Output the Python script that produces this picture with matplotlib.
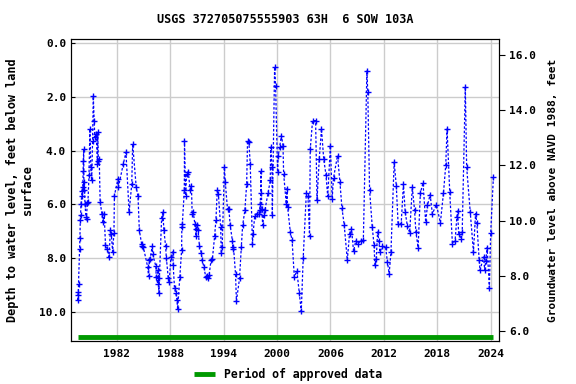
import matplotlib
matplotlib.use('Agg')
from matplotlib import pyplot as plt

# date (decimal year) and depth to water (feet below land surface)
years = [
    1977.62, 1977.66, 1977.70, 1977.72, 1977.85, 1977.88, 1977.92, 1977.95, 1978.00, 1978.08,
    1978.12, 1978.20, 1978.24, 1978.26, 1978.30, 1978.33, 1978.36, 1978.45, 1978.55, 1978.62,
    1978.70, 1978.78, 1978.90, 1979.00, 1979.10, 1979.20, 1979.30, 1979.38, 1979.48, 1979.55,
    1979.70, 1979.85, 1979.88, 1979.95, 1980.05, 1980.15, 1980.35, 1980.45, 1980.60, 1980.75,
    1980.95, 1981.15, 1981.30, 1981.40, 1981.55, 1981.70, 1981.75, 1982.15, 1982.20, 1982.75,
    1983.05, 1983.40, 1983.70, 1983.80, 1984.20, 1984.40, 1984.55, 1984.80, 1984.85, 1985.00,
    1985.50, 1985.58, 1985.68, 1985.75, 1986.00, 1986.05, 1986.40, 1986.45, 1986.60, 1986.65,
    1986.75, 1986.80, 1987.05, 1987.20, 1987.30, 1987.50, 1987.58, 1987.80, 1987.90, 1988.10,
    1988.30, 1988.35, 1988.50, 1988.65, 1988.78, 1988.85, 1989.10, 1989.30, 1989.32, 1989.38,
    1989.60, 1989.62, 1989.75, 1989.85, 1990.05, 1990.26, 1990.40, 1990.48, 1990.60, 1990.78,
    1990.90, 1990.92, 1991.05, 1991.15, 1991.30, 1991.50, 1991.60, 1991.80, 1992.00, 1992.10,
    1992.30, 1992.38, 1992.60, 1992.75, 1993.00, 1993.15, 1993.30, 1993.42, 1993.68, 1993.75,
    1993.85, 1994.10, 1994.20, 1994.45, 1994.60, 1994.75, 1995.00, 1995.05, 1995.12, 1995.35,
    1995.45, 1995.80, 1996.00, 1996.15, 1996.40, 1996.60, 1996.70, 1996.85, 1997.00, 1997.25,
    1997.32, 1997.50, 1997.72, 1997.95, 1998.05, 1998.12, 1998.18, 1998.20, 1998.30, 1998.40,
    1998.50, 1998.65, 1999.00, 1999.25, 1999.30, 1999.44, 1999.48, 1999.74, 1999.85, 2000.07,
    2000.15, 2000.30, 2000.50, 2000.68, 2000.75, 2001.05, 2001.12, 2001.20, 2001.50, 2001.70,
    2001.95, 2002.24, 2002.50, 2002.73, 2002.95, 2003.30, 2003.48, 2003.66, 2003.74, 2004.00,
    2004.34, 2004.50, 2004.75, 2005.00, 2005.25, 2005.50, 2005.70, 2006.00, 2006.20, 2006.35,
    2006.80, 2007.07, 2007.30, 2007.55, 2007.90, 2008.15, 2008.37, 2008.60, 2008.85, 2009.10,
    2009.40, 2009.70, 2010.10, 2010.20, 2010.40, 2010.70, 2010.90, 2011.00, 2011.15, 2011.30,
    2011.45, 2011.55, 2011.85, 2012.20, 2012.40, 2012.60, 2012.80, 2013.16, 2013.40, 2013.60,
    2013.95, 2014.20, 2014.40, 2014.65, 2014.90, 2015.20, 2015.45, 2015.60, 2015.85, 2016.10,
    2016.40, 2016.70, 2016.90, 2017.20, 2017.45, 2017.90, 2018.35, 2018.70, 2018.95, 2019.10,
    2019.40, 2019.70, 2020.00, 2020.20, 2020.28, 2020.40, 2020.70, 2020.80, 2021.15, 2021.30,
    2021.70, 2022.06, 2022.30, 2022.45, 2022.70, 2022.80, 2023.20, 2023.32, 2023.45, 2023.60,
    2023.85, 2024.00, 2024.30,
]
depths = [
    9.57, 9.38, 9.28, 8.97, 7.65, 7.24, 6.60, 6.41, 6.00, 5.67,
    5.50, 5.36, 4.74, 4.37, 3.94, 5.48, 5.17, 5.98, 6.47, 6.53,
    5.95, 5.92, 4.89, 3.19, 4.62, 5.11, 3.63, 1.98, 2.88, 3.50,
    3.38, 4.49, 3.32, 4.37, 4.30, 5.92, 6.35, 6.66, 6.35, 7.50,
    7.65, 7.96, 6.97, 7.10, 7.77, 7.05, 5.67, 5.05, 5.36, 4.49,
    4.06, 6.29, 5.24, 3.75, 5.36, 5.70, 6.97, 7.46, 7.56, 7.60,
    8.35, 8.68, 8.08, 8.05, 7.56, 7.86, 8.30, 8.72, 8.95, 8.45,
    9.29, 8.76, 6.50, 6.29, 6.94, 7.56, 7.98, 8.76, 8.88, 7.96,
    7.77, 8.27, 9.13, 9.32, 9.57, 9.91, 8.70, 7.69, 6.84, 6.72,
    5.48, 3.63, 5.67, 4.86, 4.80, 5.48, 5.32, 6.35, 6.29, 6.72,
    7.18, 6.90, 6.78, 6.97, 7.56, 7.80, 8.08, 8.33, 8.70, 8.68,
    8.76, 8.64, 8.08, 8.05, 7.19, 6.57, 5.48, 5.60, 6.84, 7.83,
    7.58, 4.62, 5.17, 6.19, 6.16, 6.78, 7.36, 7.68, 7.58, 8.60,
    9.60, 8.76, 7.58, 6.78, 6.22, 5.24, 3.63, 3.69, 4.49, 7.46,
    7.09, 6.45, 6.35, 6.35, 6.22, 5.98, 5.58, 4.74, 6.18, 6.78,
    6.41, 6.22, 5.58, 5.11, 3.87, 4.62, 6.40, 0.88, 1.60, 4.80,
    4.18, 3.87, 3.44, 3.81, 4.86, 5.98, 5.42, 6.10, 7.03, 7.34,
    8.70, 8.48, 9.29, 9.98, 7.98, 5.58, 5.67, 7.19, 3.94, 2.88,
    2.88, 5.83, 4.31, 3.19, 4.31, 4.89, 5.70, 3.81, 5.79, 5.02,
    4.18, 5.17, 6.14, 6.76, 8.08, 7.09, 6.90, 7.75, 7.36, 7.46,
    7.36, 7.34, 1.03, 1.83, 5.46, 6.84, 7.52, 8.27, 8.02, 7.03,
    7.36, 7.77, 7.56, 7.59, 8.14, 8.58, 7.77, 4.43, 5.30, 6.72,
    6.72, 5.24, 6.29, 6.82, 7.05, 5.36, 6.22, 7.03, 7.61, 5.58,
    5.20, 6.66, 6.04, 5.64, 6.35, 6.01, 6.68, 5.57, 4.55, 3.19,
    5.54, 7.46, 7.36, 6.47, 6.25, 7.09, 7.28, 7.03, 1.62, 4.62,
    6.29, 7.77, 6.35, 6.70, 8.06, 8.45, 7.96, 8.43, 8.10, 7.61,
    9.10, 7.05, 4.99,
]
x_ticks = [1982, 1988, 1994, 2000, 2006, 2012, 2018, 2024]
depth_ticks = [0, 2, 4, 6, 8, 10]
elev_ticks = [6, 8, 10, 12, 14, 16]

mono = 'DejaVu Sans Mono'
plt.rcParams['font.family'] = mono
plt.rcParams['font.weight'] = 'bold'
plt.rcParams['font.size'] = 8

fig = plt.figure(figsize=(5.76, 3.84), dpi=100)
ax = fig.add_axes([0.1233, 0.112, 0.7430, 0.7857])

ax.plot(years, depths, color='blue', linestyle=(0, (2, 1.5)), linewidth=0.9,
        marker='+', markersize=4, markeredgewidth=1)
ax.plot([years[0], years[-1]], [10.94, 10.94], color='#009900', linewidth=3.5,
        solid_capstyle='butt', label='Period of approved data')

ax.set_xlim(1976.88, 2024.93)
ax.set_ylim(11.09, -0.15)
ax.set_xticks(x_ticks)
ax.set_xticklabels([str(t) for t in x_ticks])
ax.set_yticks(depth_ticks)
ax.set_yticklabels([f'{t:.1f}' for t in depth_ticks])
ax.tick_params(axis='x', length=0, pad=6)
ax.tick_params(axis='y', direction='in', length=3)
ax.grid(True, color='#cccccc', linewidth=1)
ax.set_axisbelow(True)
ax.set_ylabel('Depth to water level, feet below land\nsurface', fontweight='bold',
              fontsize=8.6)
ax.set_title('USGS 372705075555903 63H  6 SOW 103A', fontsize=8.5, fontweight='bold', pad=12)

ax2 = ax.twinx()
ax2.set_ylim(5.64, 16.57)
ax2.set_yticks(elev_ticks)
ax2.set_yticklabels([f'{t:.1f}' for t in elev_ticks])
ax2.tick_params(axis='y', direction='out', length=4)
ax2.set_ylabel('Groundwater level above NAVD 1988, feet', fontweight='bold', labelpad=8)

fig.legend(loc='lower center', bbox_to_anchor=(0.5, -0.018), frameon=False,
           handlelength=1.8, fontsize=8.3)

fig.savefig('out.png', dpi=100)
